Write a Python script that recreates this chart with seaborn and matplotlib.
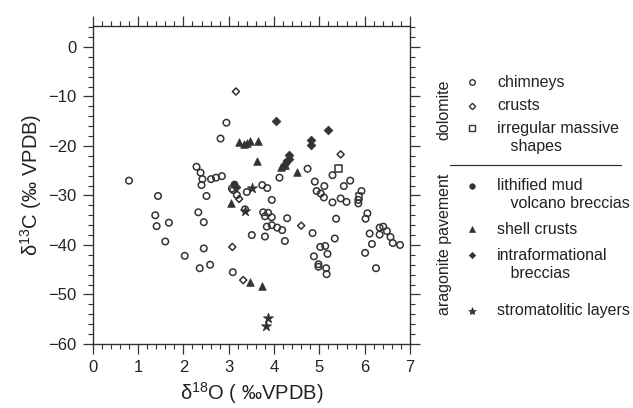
import numpy as np
import pandas as pd
import matplotlib
matplotlib.use("Agg")
import matplotlib.pyplot as plt
from matplotlib.lines import Line2D
from matplotlib.ticker import MultipleLocator
import seaborn as sns

# ---------------- data ----------------
chimneys_x = [0.80, 1.44, 1.38, 1.41, 1.68, 1.60, 2.03, 2.29, 2.38, 2.42, 2.40, 2.61, 2.72, 2.85,
              2.51, 2.33, 2.45, 2.45, 2.36, 2.59, 2.95, 2.82, 3.07, 3.10, 3.18, 3.09, 3.40, 3.74,
              3.85, 3.95, 3.76, 3.87, 3.80, 3.95, 3.84, 3.95, 4.07, 4.18, 3.51, 3.80, 4.24, 4.29,
              4.12, 4.74, 4.85, 4.88, 4.98, 4.98, 5.02, 5.13, 5.18, 5.15, 5.16, 5.34, 5.37, 5.29,
              4.90, 5.11, 4.94, 5.03, 5.10, 5.29, 5.47, 5.60, 5.54, 5.68, 5.93, 5.86, 5.86, 6.06,
              6.02, 6.11, 6.16, 6.01, 6.25, 6.33, 6.41, 6.33, 6.49, 6.57, 6.62, 6.78, 3.36]
chimneys_y = [-27.0, -30.1, -34.0, -36.2, -35.5, -39.3, -42.2, -24.2, -25.4, -26.7, -27.9, -26.7, -26.4, -26.1,
              -30.1, -33.4, -35.4, -40.7, -44.7, -44.0, -15.3, -18.5, -28.6, -28.9, -29.9, -45.5, -29.3, -27.9,
              -28.5, -30.9, -33.4, -33.5, -34.2, -34.4, -36.3, -36.0, -36.5, -37.0, -38.0, -38.3, -39.2, -34.6,
              -26.4, -24.6, -37.6, -42.3, -43.9, -44.4, -40.4, -40.2, -41.8, -44.7, -45.9, -38.7, -34.7, -25.9,
              -27.2, -28.1, -29.1, -29.6, -30.4, -31.4, -30.6, -31.3, -28.1, -27.0, -29.1, -30.9, -31.6, -33.6,
              -34.7, -37.7, -39.8, -41.6, -44.7, -36.5, -36.3, -37.9, -37.2, -38.4, -39.6, -40.0, -32.8]

crusts_x = [3.16, 5.47, 3.23, 4.60, 3.08, 3.32]
crusts_y = [-9.0, -21.7, -30.7, -36.1, -40.4, -47.1]

irregular_x = [5.42, 5.88]
irregular_y = [-24.5, -30.2]

lithified_x = [3.12, 4.27, 4.22]
lithified_y = [-27.7, -23.2, -24.0]

shell_x = [3.23, 3.34, 3.40, 3.47, 3.64, 3.62, 4.51, 3.04, 3.48, 3.73, 4.15, 4.25]
shell_y = [-19.1, -19.6, -19.5, -19.0, -19.0, -23.0, -25.2, -31.6, -47.4, -48.3, -24.3, -23.8]

intraform_x = [4.04, 5.18, 4.81, 4.81, 4.33, 4.32, 3.16]
intraform_y = [-14.9, -16.7, -18.8, -19.8, -21.8, -22.6, -28.2]

strom_x = [3.51, 3.37, 3.87, 3.83]
strom_y = [-28.5, -33.2, -54.8, -56.4]

x_ticks = [0, 1, 2, 3, 4, 5, 6, 7]
y_ticks = [-60, -50, -40, -30, -20, -10, 0]

# ---------------- style ----------------
sns.set_style("ticks")
plt.rcParams["font.family"] = ["Liberation Sans", "DejaVu Sans"]
plt.rcParams["mathtext.default"] = "regular"
plt.rcParams["mathtext.fontset"] = "custom"
plt.rcParams["mathtext.rm"] = "Liberation Sans"

INK = "#333333"

fig = plt.figure(figsize=(6.33, 4.08), dpi=100)
ax = fig.add_axes([0.1465, 0.157, 0.5012, 0.780])

groups = [
    ("chimneys", chimneys_x, chimneys_y, "o", False, 22),
    ("crusts", crusts_x, crusts_y, "D", False, 13),
    ("irregular", irregular_x, irregular_y, "s", False, 22),
    ("lithified", lithified_x, lithified_y, "o", True, 26),
    ("shell", shell_x, shell_y, "^", True, 30),
    ("intraform", intraform_x, intraform_y, "D", True, 20),
    ("strom", strom_x, strom_y, "*", True, 60),
]

for name, gx, gy, mk, filled, s in groups:
    df = pd.DataFrame({"x": gx, "y": gy})
    if filled:
        sns.scatterplot(data=df, x="x", y="y", ax=ax, marker=mk, s=s,
                        color=INK, edgecolor=INK, linewidth=0.5, zorder=3)
    else:
        sns.scatterplot(data=df, x="x", y="y", ax=ax, marker=mk, s=s,
                        facecolor="none", edgecolor=INK, linewidth=1.1, zorder=3)

ax.set_xlim(0, 7)
ax.set_ylim(-60, 4.3)
ax.set_xticks(x_ticks)
ax.set_yticks(y_ticks)
ax.xaxis.set_minor_locator(MultipleLocator(0.2))
ax.yaxis.set_minor_locator(MultipleLocator(2))
ax.tick_params(which="both", direction="out", top=True, right=True,
               labeltop=False, labelright=False, colors=INK, labelcolor="#222222")
ax.tick_params(which="major", length=7.5, width=0.9, labelsize=12, pad=4)
ax.tick_params(which="minor", length=3.5, width=0.8)
for sp in ax.spines.values():
    sp.set_visible(True)
    sp.set_linewidth(1.0)
    sp.set_color(INK)

ax.set_xlabel(r"δ$^{18}$O ( ‰VPDB)", fontsize=14.5, color="#222222", labelpad=4)
ax.set_ylabel(r"δ$^{13}$C (‰ VPDB)", fontsize=14.5, color="#222222", labelpad=3)

# ---------------- legend (manual) ----------------
W, H = 633.0, 408.0
def fx(px):
    return px / W
def fy(py):
    return 1 - py / H

mx = fx(472)
tx = fx(497)
fs = 11.5
entries = [
    ("o", False, 82, ["chimneys"]),
    ("D", False, 106, ["crusts"]),
    ("s", False, 128, ["irregular massive", "   shapes"]),
    ("o", True, 186, ["lithified mud", "   volcano breccias"]),
    ("^", True, 229, ["shell crusts"]),
    ("D", True, 255, ["intraformational", "   breccias"]),
    ("*", True, 311, ["stromatolitic layers"]),
]
for mk, filled, py, lines in entries:
    ms = {"o": 4.0, "D": 3.2, "s": 4.0, "^": 4.5, "*": 6.0}[mk]
    fig.add_artist(Line2D([mx], [fy(py)], transform=fig.transFigure, marker=mk,
                          markersize=ms, linestyle="none",
                          markerfacecolor=(INK if filled else "none"),
                          markeredgecolor=INK, markeredgewidth=(0.5 if filled else 1.0)))
    for i, t in enumerate(lines):
        fig.text(tx, fy(py + i * 18), t, fontsize=fs, color="#222222",
                 ha="left", va="center")

fig.text(fx(444), fy(110), "dolomite", rotation=90, fontsize=fs, color="#222222",
         ha="center", va="center")
fig.text(fx(444), fy(244), "aragonite pavement", rotation=90, fontsize=fs, color="#222222",
         ha="center", va="center")
fig.add_artist(Line2D([fx(450), fx(621)], [fy(165), fy(165)], transform=fig.transFigure,
                      color=INK, linewidth=0.9))

fig.savefig("out.png", dpi=100)
